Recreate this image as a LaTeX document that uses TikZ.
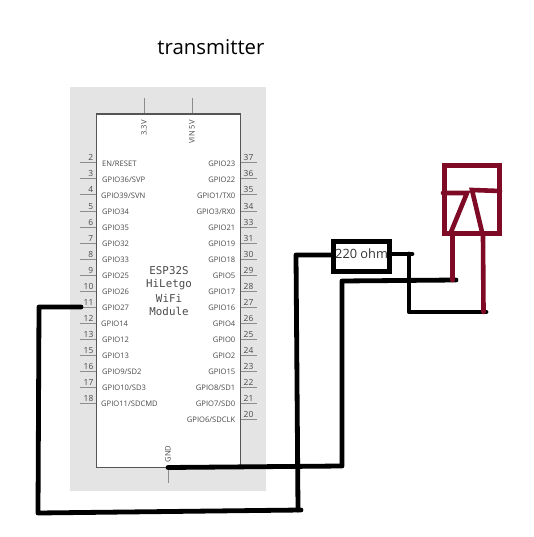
\documentclass[tikz,border=0pt]{standalone}
\usepackage{fontspec}
\setmainfont{Open Sans}
\newfontfamily\chipfont{DejaVu Sans Mono}
\definecolor{wirered}{HTML}{7F0A26}
\definecolor{panel}{HTML}{E4E4E4}
\definecolor{pincol}{HTML}{8C8C8C}
\definecolor{bodycol}{HTML}{555555}
\definecolor{labelcol}{HTML}{4A4A4A}
\tikzset{
  wire/.style={draw=black,line width=4.8pt,line cap=round,line join=round},
  redwire/.style={draw=wirered,line width=4.6pt,line cap=round,line join=miter},
  pinline/.style={draw=pincol,line width=1pt},
  pinnum/.style={font=\fontsize{8.4pt}{9pt}\selectfont,text=labelcol,inner sep=0pt},
  pinname/.style={font=\fontsize{7.6pt}{9pt}\selectfont,text=labelcol,inner sep=0pt},
  chiptext/.style={font=\chipfont\fontsize{10.8pt}{12pt}\selectfont,text=labelcol,inner sep=0pt}
}
\begin{document}
\begin{tikzpicture}[x=1pt,y=-1pt]
\useasboundingbox (0,0) rectangle (533,537);
\fill[white] (0,0) rectangle (533,537);
\fill[panel] (70,87) rectangle (266,491);
\node[inner sep=0pt,font=\fontsize{20.4pt}{24pt}\selectfont] (title) at (211,47) {transmitter};
% top and bottom pins
\draw[pinline] (144,98) -- (144,114);
\draw[pinline] (192,98) -- (192,114);
\draw[pinline] (168,467) -- (168,483);
\node[draw=bodycol,fill=white,line width=1.3pt,minimum width=144pt,minimum height=353pt,inner sep=0pt,anchor=north west] (chip) at (95.7,113.5) {};
\node[pinname,rotate=90] (n33) at (144,128) {3.3V};
\node[pinname,rotate=90] (nvin) at (192,132) {VIN 5V};
\node[pinname,rotate=90] (ngnd) at (168,454) {GND};
% left pins
\foreach \num/\lab/\y/\lx in {
 2/EN\slash RESET/163/102, 3/GPIO36\slash SVP/179/102, 4/GPIO39\slash SVN/195/101,
 5/GPIO34/211/102, 6/GPIO35/227/102, 7/GPIO32/243/102, 8/GPIO33/259/102,
 9/GPIO25/275/102, 10/GPIO26/291/102, 11/GPIO27/307/102, 12/GPIO14/323/101,
 13/GPIO12/339/102, 15/GPIO13/355/102, 16/GPIO9\slash SD2/371/102,
 17/GPIO10\slash SD3/387/102, 18/GPIO11\slash SDCMD/403/101}{
  \draw[pinline] (80,\y) -- (96,\y);
  \node[pinnum,anchor=base east] (L\num) at (93.5,\y-2) {\num};
  \node[pinname,anchor=west] (LN\num) at (\lx,\y+0.5) {\lab};
}
% right pins
\foreach \num/\lab/\y in {
 37/GPIO23/163, 36/GPIO22/179, 35/GPIO1\slash TX0/195, 34/GPIO3\slash RX0/211,
 33/GPIO21/227, 31/GPIO19/243, 30/GPIO18/259, 29/GPIO5/275, 28/GPIO17/291,
 27/GPIO16/307, 26/GPIO4/323, 25/GPIO0/339, 24/GPIO2/355, 23/GPIO15/371,
 22/GPIO8\slash SD1/387, 21/GPIO7\slash SD0/403, 20/GPIO6\slash SDCLK/419}{
  \draw[pinline] (241,\y) -- (257,\y);
  \node[pinnum,anchor=base west] (R\num) at (243.5,\y-2) {\num};
  \node[pinname,anchor=east] (RN\num) at (235.5,\y+0.5) {\lab};
}
\node[chiptext] (m1) at (169,271) {ESP32S};
\node[chiptext] (m2) at (169,285) {HiLetgo};
\node[chiptext] (m3) at (169,298) {WiFi};
\node[chiptext] (m4) at (169,311) {Module};
% resistor
\node[draw=black,line width=4.8pt,minimum width=56.5pt,minimum height=30pt,inner sep=0pt] (res) at (361.5,256.5) {};
\node[inner sep=0pt,font=\fontsize{12.8pt}{15pt}\selectfont,text=labelcol!70!black,anchor=west] (reslabel) at (335,253.5) {220 ohm};
% coordinates
\coordinate (gpio) at (81,307);
\coordinate (a1) at (39,307);
\coordinate (a2) at (38,513);
\coordinate (a3) at (301,510);
\coordinate (a4) at (296,255);
\coordinate (a5) at (332,255);
\coordinate (gnd) at (168,467.5);
\coordinate (b1) at (342,466);
\coordinate (b2) at (342,281);
\coordinate (b3) at (456,280);
\coordinate (c0) at (392,254);
\coordinate (c1) at (412,254);
\coordinate (c2) at (409,312);
\coordinate (c3) at (486,312);
\draw[wire] (gpio) -- (a1) -- (a2) -- (a3);
\draw[wire] (298,510) -- (a4) -- (a5);
\draw[wire] (gnd) -- (b1) -- (b2) -- (b3);
\draw[wire] (c0) -- (c1);
\draw[wire] (c1 -| c2) -- (c2) -- (c3);
% relay
\node[draw=wirered,line width=4.6pt,minimum width=55.4pt,minimum height=68.4pt,inner sep=0pt,anchor=north west] (relay) at (442,163) {};
\coordinate (r1) at (443,193);
\coordinate (r2) at (467,193);
\coordinate (r3) at (451,232);
\coordinate (r4) at (472,190);
\coordinate (r5) at (482,232);
\coordinate (r6) at (500,191);
\coordinate (l1) at (452.5,236);
\coordinate (l2) at (452.5,280);
\coordinate (l3) at (483,236);
\coordinate (l4) at (483.5,312);
\draw[redwire] (r1) -- (r2) -- (r3);
\draw[redwire] (r6) -- (r4) -- (r5);
\draw[redwire] (l1) -- (l2);
\draw[redwire] (l3) -- (l4);
\end{tikzpicture}
\end{document}
